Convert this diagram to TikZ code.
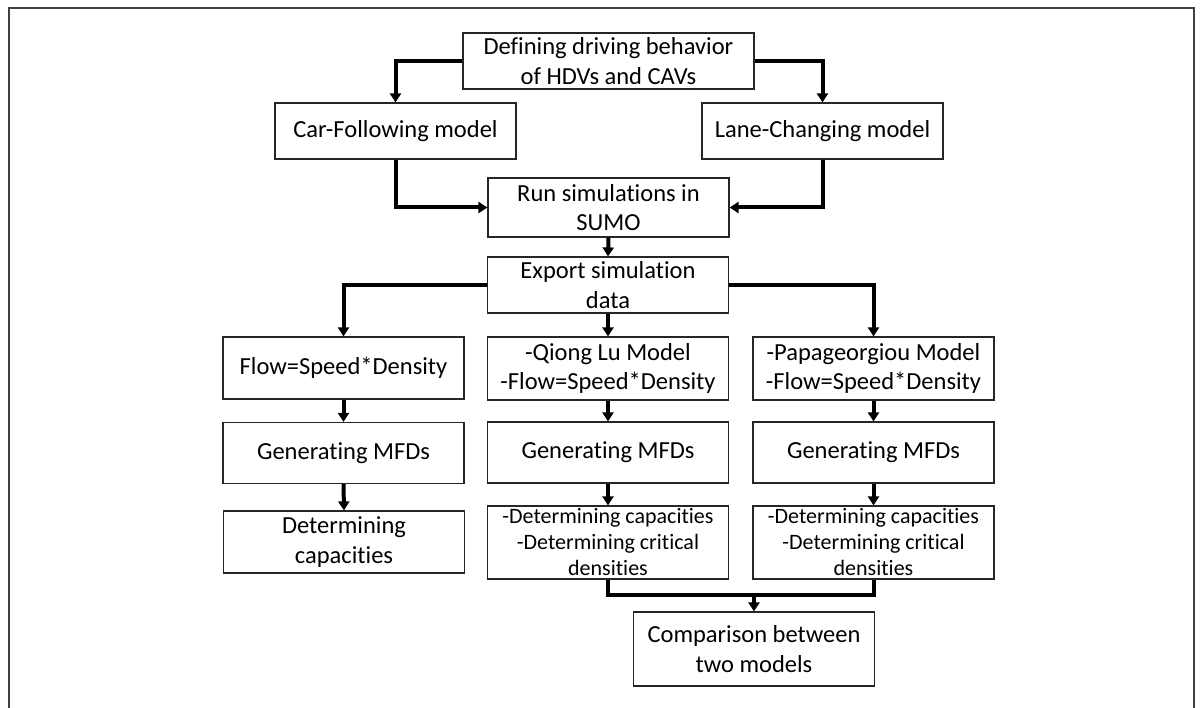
\documentclass[tikz,border=0pt]{standalone}
\usepackage{fontspec}
\setmainfont{Carlito}[Ligatures=NoCommon]
\usetikzlibrary{arrows.meta}
\tikzset{
  box/.style={draw=black!85, line width=1.2pt, rectangle, align=center, inner sep=2pt,
    minimum width=241pt, minimum height=56pt,
    font=\fontsize{24.5}{29.4}\selectfont},
  smalltext/.style={font=\fontsize{22}{26}\selectfont},
  conn/.style={line width=4pt, black},
  arr/.style={conn, -{Triangle[length=9pt,width=11pt]}},
  frame/.style={line width=1.2pt, black!75}
}
\begin{document}
\begin{tikzpicture}[x=1pt,y=-1pt]
\useasboundingbox (0,0) rectangle (1203,708);
\draw[frame] (9,708) -- (9,8) -- (1194,8) -- (1194,708);

\node[box, minimum width=291pt] (top) at (608.5,61) {Defining driving behavior\\of HDVs and CAVs};
\node[box] (car) at (395.5,131) {Car-Following model};
\node[box] (lane) at (822.5,131) {Lane-Changing model};
\node[box, minimum height=59pt] (run) at (608.5,207.5) {Run simulations in\\SUMO};
\node[box] (export) at (608,285) {Export simulation\\data};

\node[box, minimum height=62pt] (flow) at (343.5,368) {Flow=Speed*Density};
\node[box, minimum height=63pt] (qiong) at (608,368.5) {-Qiong Lu Model\\-Flow=Speed*Density};
\node[box, minimum height=63pt] (papa) at (873.5,368.5) {-Papageorgiou Model\\-Flow=Speed*Density};

\node[box, minimum height=61pt] (gen1) at (343.5,453) {Generating MFDs};
\node[box, minimum height=61pt] (gen2) at (608,452.5) {Generating MFDs};
\node[box, minimum height=61pt] (gen3) at (873.5,452.5) {Generating MFDs};

\node[box, minimum height=62pt] (det1) at (344,542) {Determining\\capacities};
\node[box, smalltext, minimum height=73pt] (det2) at (608,542.5) {-Determining capacities\\-Determining critical\\densities};
\node[box, smalltext, minimum height=73pt] (det3) at (873.5,542.5) {-Determining capacities\\-Determining critical\\densities};

\node[box, minimum height=74pt] (comp) at (754,649) {Comparison between\\two models};
\coordinate (j) at (754,595);

\draw[arr] (top.west) -| (car.north);
\draw[arr] (top.east) -| (lane.north);
\draw[arr] (car.south) |- (run.west);
\draw[arr] (lane.south) |- (run.east);
\draw[arr] (run.south) -- (export.north);
\draw[arr] (export.west) -| (flow.north);
\draw[arr] (export.east) -| (papa.north);
\draw[arr] (export.south) -- (qiong.north);
\draw[arr] (flow.south) -- (gen1.north);
\draw[arr] (qiong.south) -- (gen2.north);
\draw[arr] (papa.south) -- (gen3.north);
\draw[arr] (gen1.south) -- (det1.north);
\draw[arr] (gen2.south) -- (det2.north);
\draw[arr] (gen3.south) -- (det3.north);
\draw[conn] (det2.south) -- (det2.south |- j) -- (det3.south |- j) -- (det3.south);
\draw[arr] (j) -- (comp.north);
\end{tikzpicture}
\end{document}
